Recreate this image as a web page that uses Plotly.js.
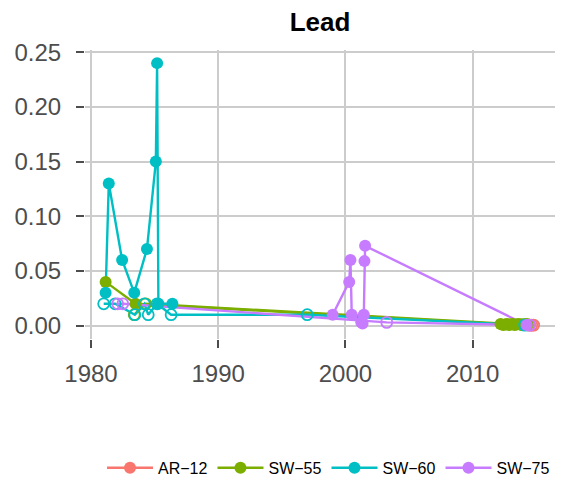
<!DOCTYPE html>
<html>
<head>
<meta charset="utf-8">
<script src="https://cdn.plot.ly/plotly-3.0.1.min.js"></script>
<style>html,body{margin:0;padding:0;background:#fff;}#chart{width:568px;height:482px;}</style>
</head>
<body>
<div id="chart"></div>
<script>
// ---- data (year, lead concentration) ----
const siteNames = ["AR\u221212", "SW\u221255", "SW\u221260", "SW\u221275"];
const siteColors = ["#F8766D", "#7CAE00", "#00BFC4", "#C77CFF"];

// detected (filled points)
const ar12DetX = [];
const ar12DetY = [];
const sw55DetX = [1981.15, 1983.5, 2012.2, 2012.4, 2012.55, 2012.7, 2012.85, 2013.0, 2013.15, 2013.3, 2013.45, 2013.6, 2013.75, 2013.9, 2014.05, 2014.2];
const sw55DetY = [0.04, 0.02, 0.0015, 0.0005, 0.001, 0.0015, 0.0005, 0.001, 0.0015, 0.0005, 0.001, 0.0015, 0.001, 0.0005, 0.001, 0.0015];
const sw60DetX = [1981.15, 1981.4, 1982.45, 1983.4, 1984.4, 1985.1, 1985.2, 1985.3, 1986.4];
const sw60DetY = [0.03, 0.13, 0.06, 0.03, 0.07, 0.15, 0.24, 0.02, 0.02];
const sw75DetX = [1999.0, 2000.3, 2000.4, 2000.5, 2001.25, 2001.35, 2001.45, 2001.5, 2001.55, 2014.25];
const sw75DetY = [0.01, 0.04, 0.06, 0.01, 0.003, 0.002, 0.01, 0.059, 0.073, 0.0005];

// non-detect (open points)
const ar12NdX = [2014.45, 2014.65, 2014.8];
const ar12NdY = [0.0005, 0.0005, 0.0005];
const sw55NdX = [1983.4, 1984.3, 2013.9, 2014.3];
const sw55NdY = [0.01, 0.02, 0.001, 0.001];
const sw60NdX = [1981.0, 1981.9, 1983.45, 1984.2, 1984.5, 1985.2, 1986.3, 1997.0, 2014.1];
const sw60NdY = [0.02, 0.02, 0.01, 0.02, 0.01, 0.02, 0.01, 0.01, 0.0005];
const sw75NdX = [1982.1, 1982.5, 2003.25, 2014.5];
const sw75NdY = [0.02, 0.02, 0.003, 0.0005];

const xTicks = [1980, 1990, 2000, 2010];
const yTicks = [0, 0.05, 0.10, 0.15, 0.20, 0.25];

const detX = [ar12DetX, sw55DetX, sw60DetX, sw75DetX];
const detY = [ar12DetY, sw55DetY, sw60DetY, sw75DetY];
const ndX = [ar12NdX, sw55NdX, sw60NdX, sw75NdX];
const ndY = [ar12NdY, sw55NdY, sw60NdY, sw75NdY];

const traces = [];
// lines first
for (let i = 0; i < 4; i++) {
  [[detX[i], detY[i]], [ndX[i], ndY[i]]].forEach(function (d) {
    if (d[0].length) traces.push({
      type: "scatter", mode: "lines", x: d[0], y: d[1],
      line: {color: siteColors[i], width: 2.4}, showlegend: false, hoverinfo: "skip"
    });
  });
}
// points on top
for (let i = 0; i < 4; i++) {
  if (detX[i].length) traces.push({
    type: "scatter", mode: "markers", x: detX[i], y: detY[i],
    marker: {color: siteColors[i], size: 12, symbol: "circle"}, showlegend: false
  });
  if (ndX[i].length) traces.push({
    type: "scatter", mode: "markers", x: ndX[i], y: ndY[i],
    marker: {color: siteColors[i], size: 11, symbol: "circle-open", line: {color: siteColors[i], width: 1.8}},
    showlegend: false
  });
}
// legend entries
for (let i = 0; i < 4; i++) {
  traces.push({
    type: "scatter", mode: "lines+markers", x: [null], y: [null], name: siteNames[i],
    line: {color: siteColors[i], width: 2.4}, marker: {color: siteColors[i], size: 12}
  });
}

const font = "Liberation Sans, Arial, Helvetica, sans-serif";
const layout = {
  width: 568, height: 482,
  margin: {l: 85, r: 13, t: 50, b: 143, autoexpand: false},
  paper_bgcolor: "#ffffff", plot_bgcolor: "#ffffff",
  font: {family: font, color: "#000"},
  title: {text: "<b>Lead</b>", font: {size: 26, color: "#000", family: font}, x: 0.5, xref: "paper", xanchor: "center", y: 0.955, yref: "container", yanchor: "middle"},
  xaxis: {
    range: [1979.53, 2016.48], tickvals: xTicks, ticktext: xTicks.map(String),
    showgrid: true, gridcolor: "#cccccc", gridwidth: 2, zeroline: false, showline: false,
    ticks: "outside", ticklen: 8, tickwidth: 2, tickcolor: "#4d4d4d", ticklabelstandoff: 5,
    tickfont: {size: 24, color: "#4d4d4d", family: font}, automargin: false
  },
  yaxis: {
    range: [-0.0122, 0.252], tickvals: yTicks, ticktext: yTicks.map(function (v) { return v.toFixed(2); }),
    showgrid: true, gridcolor: "#cccccc", gridwidth: 2, zeroline: false, showline: false,
    ticks: "outside", ticklen: 8, tickwidth: 2, tickcolor: "#4d4d4d", ticklabelstandoff: 10,
    tickfont: {size: 24, color: "#4d4d4d", family: font}, automargin: false
  },
  legend: {orientation: "h", x: 1.0, xanchor: "right", y: -0.446, yanchor: "middle",
    itemwidth: 46,
    font: {size: 16, color: "#000", family: font}, bgcolor: "rgba(0,0,0,0)"},
  showlegend: true
};

Plotly.newPlot("chart", traces, layout, {displayModeBar: false, staticPlot: true});
</script>
</body>
</html>
